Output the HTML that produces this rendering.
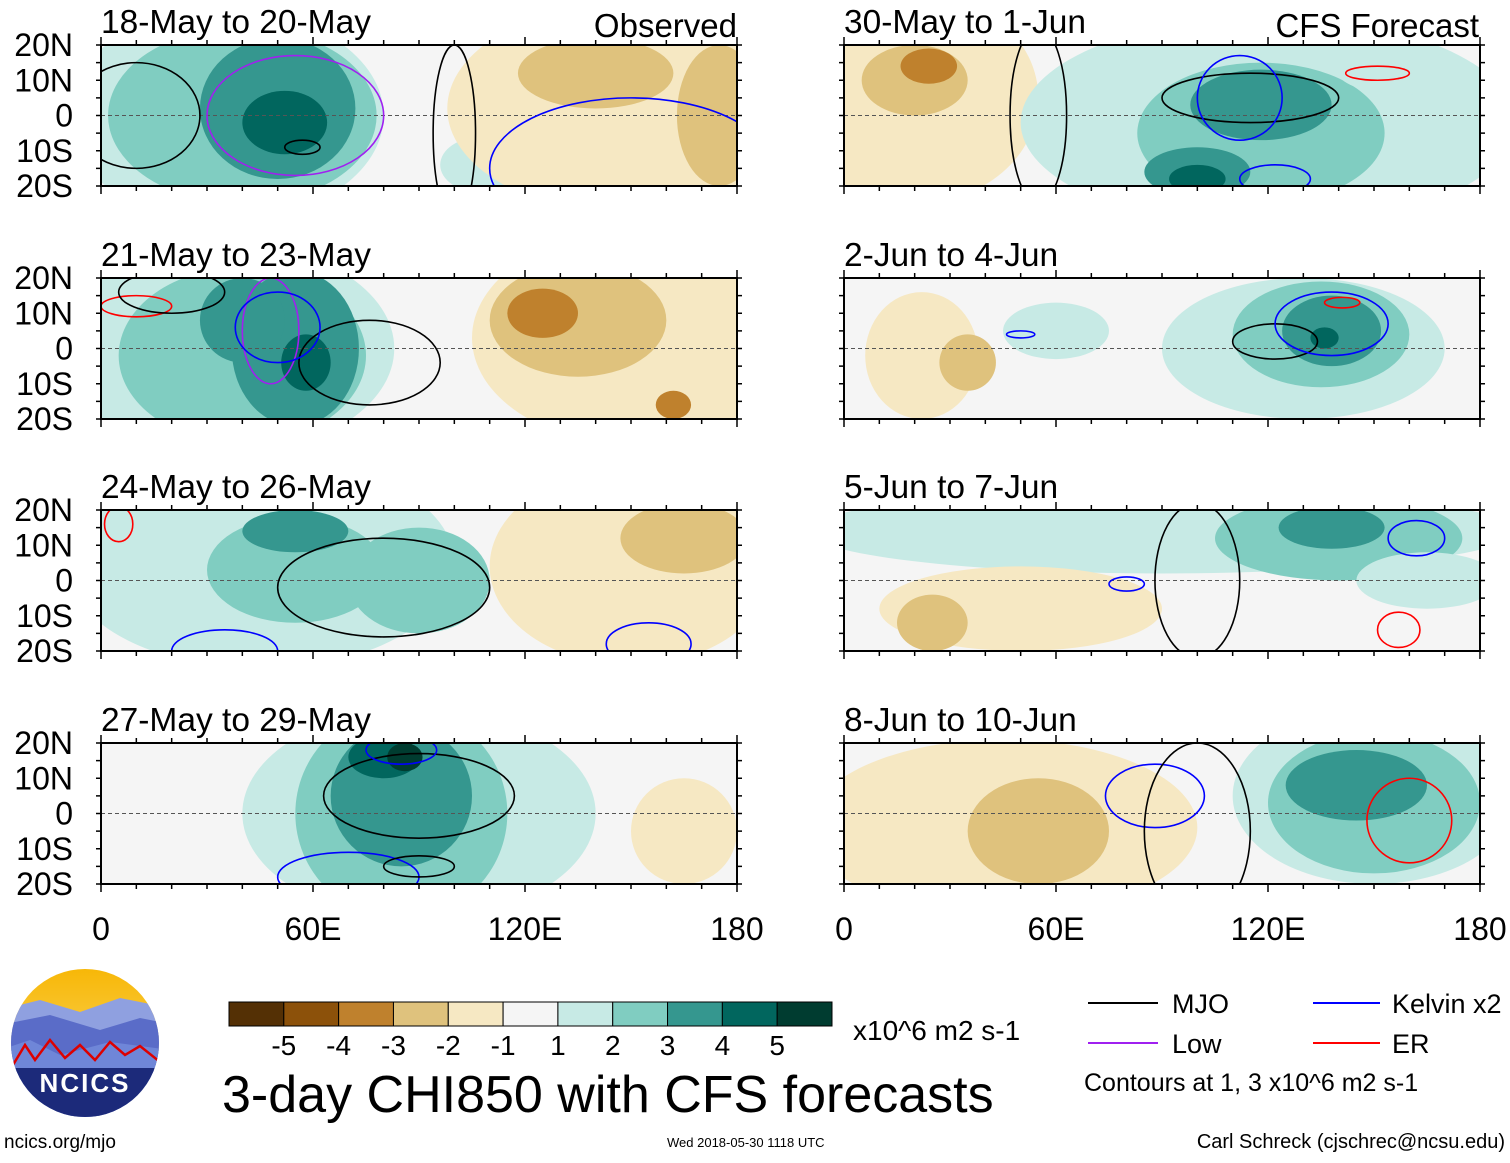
<!DOCTYPE html>
<html><head><meta charset="utf-8">
<style>
body{margin:0;background:#fff;width:1510px;height:1158px;overflow:hidden;font-family:"Liberation Sans",sans-serif;}
svg text{font-family:"Liberation Sans",sans-serif;}
</style></head>
<body>
<svg id="chart" width="1510" height="1158" xmlns="http://www.w3.org/2000/svg">
<g id="panels"></g>
<g id="labels"></g>
<g id="cbar"></g>
<text x="853" y="1040" font-size="28">x10^6 m2 s-1</text>
<text x="222" y="1112" font-size="52">3-day CHI850 with CFS forecasts</text>
<g>
<line x1="1088" y1="1003" x2="1158" y2="1003" stroke="#000" stroke-width="2"/><text x="1172" y="1013" font-size="27">MJO</text>
<line x1="1088" y1="1043" x2="1158" y2="1043" stroke="#a020f0" stroke-width="2"/><text x="1172" y="1053" font-size="27">Low</text>
<line x1="1313" y1="1003" x2="1380" y2="1003" stroke="#0000ff" stroke-width="2"/><text x="1392" y="1013" font-size="27">Kelvin x2</text>
<line x1="1313" y1="1043" x2="1380" y2="1043" stroke="#ff0000" stroke-width="2"/><text x="1392" y="1053" font-size="27">ER</text>
<text x="1084" y="1091" font-size="25">Contours at 1, 3 x10^6 m2 s-1</text>
</g>
<g>
<defs><clipPath id="logoclip"><circle cx="85" cy="1043" r="74"/></clipPath>
<linearGradient id="sky" x1="0" y1="0" x2="0" y2="1"><stop offset="0" stop-color="#f7b500"/><stop offset="1" stop-color="#fbe38a"/></linearGradient></defs>
<g clip-path="url(#logoclip)">
<rect x="0" y="960" width="170" height="170" fill="url(#sky)"/>
<path d="M0 1010 L40 1000 L80 1012 L120 998 L170 1008 L170 1130 L0 1130Z" fill="#8fa0e0"/>
<path d="M0 1025 L50 1015 L100 1030 L140 1018 L170 1024 L170 1130 L0 1130Z" fill="#5a6cc8"/>
<path d="M0 1050 L30 1040 L60 1055 L110 1042 L170 1050 L170 1130 L0 1130Z" fill="#6f86d8"/>
<path d="M10 1070 L25 1045 L35 1060 L50 1040 L65 1058 L80 1045 L95 1060 L110 1042 L125 1055 L140 1046 L160 1062" fill="none" stroke="#d00" stroke-width="2.5"/>
<rect x="0" y="1068" width="170" height="70" fill="#1c2a7a"/>
</g>
<text x="85" y="1092" font-size="26" font-weight="bold" fill="#fff" text-anchor="middle" letter-spacing="2">NCICS</text>
</g>
<text x="4" y="1148" font-size="19">ncics.org/mjo</text>
<text x="667" y="1147" font-size="13">Wed 2018-05-30 1118 UTC</text>
<text x="1505" y="1148" font-size="20" text-anchor="end">Carl Schreck (cjschrec@ncsu.edu)</text>
</svg>
<script>
const levelColors=["#543005","#8c510a","#bf812d","#dfc27d","#f6e8c3","#f5f5f5","#c7eae5","#80cdc1","#35978f","#01665e","#003c30"];
const cbarLabels=["-5","-4","-3","-2","-1","1","2","3","4","5"];
const panelTitles=["18-May to 20-May","30-May to 1-Jun","21-May to 23-May","2-Jun to 4-Jun","24-May to 26-May","5-Jun to 7-Jun","27-May to 29-May","8-Jun to 10-Jun"];
const latTicks=["20N","10N","0","10S","20S"];
const lonTicks=["0","60E","120E","180"];
// blobs: [lon, lat, rxDeg, ryDeg, level(-5..5)]
const blobs0=[[35,0,45,30,1],[108,-14,12,8,1],[150,2,52,30,-1],[175,0,12,20,-2],[140,12,22,10,-2],[40,0,38,25,2],[50,2,22,20,3],[52,-2,12,9,4]];
const blobs1=[[20,5,35,30,-1],[20,10,15,10,-2],[24,14,8,5,-3],[120,-2,70,30,1],[118,-5,35,20,2],[118,3,20,10,3],[100,-16,15,7,3],[100,-18,8,4,4],[160,12,20,6,1]];
const blobs2=[[35,0,48,30,1],[40,-2,35,25,2],[55,0,18,22,3],[40,8,12,12,3],[58,-4,7,8,4],[150,3,45,30,-1],[135,8,25,16,-2],[125,10,10,7,-3],[162,-16,5,4,-3]];
const blobs3=[[22,-2,16,18,-1],[35,-4,8,8,-2],[130,0,40,20,1],[135,4,25,15,2],[138,5,14,10,3],[136,3,4,3,4],[60,5,15,8,1]];
const blobs4=[[45,5,55,30,1],[55,3,25,15,2],[90,0,20,15,2],[55,14,15,6,3],[150,4,40,28,-1],[165,12,18,10,-2]];
const blobs5=[[90,14,100,12,1],[140,12,35,12,2],[138,15,15,6,3],[50,-8,40,12,-1],[25,-12,10,8,-2],[165,0,20,8,1]];
const blobs6=[[90,0,50,30,1],[85,0,30,30,2],[85,5,20,20,3],[80,16,10,6,4],[86,16,5,4,5],[165,-5,15,15,-1]];
const blobs7=[[45,-4,55,25,-1],[55,-5,20,15,-2],[150,5,40,25,1],[150,3,30,20,2],[145,8,20,10,3]];
const panelBlobs=[blobs0,blobs1,blobs2,blobs3,blobs4,blobs5,blobs6,blobs7];
// contours: [color, lon, lat, rxDeg, ryDeg]
const panelLines=[
 [["#000",57,-9,5,2],["#a020f0",55,0,25,17],["#0000ff",150,-15,40,20],["#000",100,-5,6,25],["#000",10,0,18,15]],
 [["#000",115,5,25,7],["#0000ff",112,5,12,12],["#ff0000",151,12,9,2],["#0000ff",122,-18,10,4],["#000",55,0,8,25]],
 [["#ff0000",10,12,10,3],["#000",76,-4,20,12],["#a020f0",48,5,8,15],["#0000ff",50,6,12,10],["#000",20,16,15,6]],
 [["#000",122,2,12,5],["#0000ff",138,7,16,9],["#ff0000",141,13,5,1.5],["#0000ff",50,4,4,1]],
 [["#000",80,-2,30,14],["#0000ff",35,-20,15,6],["#0000ff",155,-18,12,6],["#ff0000",5,16,4,5]],
 [["#0000ff",162,12,8,5],["#0000ff",80,-1,5,2],["#ff0000",157,-14,6,5],["#000",100,0,12,22]],
 [["#000",90,5,27,12],["#0000ff",70,-18,20,7],["#000",90,-15,10,3],["#0000ff",85,18,10,4]],
 [["#0000ff",88,5,14,9],["#ff0000",160,-2,12,12],["#000",100,-5,15,25]]
];
const NS="http://www.w3.org/2000/svg";
const svg=document.getElementById('panels');
const lab=document.getElementById('labels');
const colX=[101,844], rowY=[45,278,510,743], PW=636, PH=141;
function mk(t,a,p){const e=document.createElementNS(NS,t);for(const k in a)e.setAttribute(k,a[k]);(p||svg).appendChild(e);return e;}
function xs(x0,lon){return x0+lon/180*PW;}
function ys(y0,lat){return y0+(20-lat)/40*PH;}
for(let i=0;i<8;i++){
 const x0=colX[i%2], y0=rowY[Math.floor(i/2)];
 const g=mk('g',{});
 
 
 const cp=mk('clipPath',{id:'cp'+i},g);mk('rect',{x:x0,y:y0,width:PW,height:PH},cp);
 const inner=mk('g',{'clip-path':'url(#cp'+i+')'},g);
 mk('rect',{x:x0,y:y0,width:PW,height:PH,fill:'#f5f5f5'},inner);
 panelBlobs[i].forEach(b=>{
  const e=mk('ellipse',{cx:xs(x0,b[0]),cy:ys(y0,b[1]),rx:b[2]/180*PW,ry:b[3]/40*PH,fill:levelColors[b[4]+5]},inner);
  
  
 });
 mk('line',{x1:x0,y1:ys(y0,0),x2:x0+PW,y2:ys(y0,0),stroke:'#555','stroke-dasharray':'4 3','stroke-width':1},inner);
 panelLines[i].forEach(l=>{
  const e=mk('ellipse',{cx:xs(x0,l[1]),cy:ys(y0,l[2]),rx:l[3]/180*PW,ry:l[4]/40*PH,fill:'none',stroke:l[0],'stroke-width':1.6},inner);
  
  
 });
 mk('rect',{x:x0,y:y0,width:PW,height:PH,fill:'none',stroke:'#000','stroke-width':2},g);
 for(let lon=0;lon<=180;lon+=10){const x=xs(x0,lon),L=lon%60==0?8:5;
  mk('line',{x1:x,y1:y0,x2:x,y2:y0-L,stroke:'#000','stroke-width':1.5},g);
  mk('line',{x1:x,y1:y0+PH,x2:x,y2:y0+PH+L,stroke:'#000','stroke-width':1.5},g);}
 for(let lat=-20;lat<=20;lat+=5){const y=ys(y0,lat);
  mk('line',{x1:x0,y1:y,x2:x0-5,y2:y,stroke:'#000','stroke-width':1.5},g);
  mk('line',{x1:x0+PW,y1:y,x2:x0+PW+5,y2:y,stroke:'#000','stroke-width':1.5},g);}
 const t=mk('text',{x:x0,y:y0-12,'font-size':33.5},lab);t.textContent=panelTitles[i];
 
 
 if(i%2==0){latTicks.forEach((s,k)=>{const tt=mk('text',{x:73,y:y0+k*PH/4+11,'font-size':32,'text-anchor':'end'},lab);tt.textContent=s;
  
  });}
}
const o=mk('text',{x:737,y:37,'font-size':33,'text-anchor':'end'},lab);o.textContent='Observed';


const f=mk('text',{x:1479,y:37,'font-size':33,'text-anchor':'end'},lab);f.textContent='CFS Forecast';


colX.forEach(x0=>lonTicks.forEach((s,k)=>{const t=mk('text',{x:x0+k*PW/3,y:940,'font-size':32,'text-anchor':'middle'},lab);t.textContent=s;
 
 }));
const cb=document.getElementById('cbar');const bw=(832-229)/11;
levelColors.forEach((c,k)=>{const r=mk('rect',{x:229+k*bw,y:1002,width:bw,height:24,fill:c,stroke:'#000','stroke-width':1},cb);
 
 });
cbarLabels.forEach((s,k)=>{const t=mk('text',{x:229+(k+1)*bw,y:1055,'font-size':28,'text-anchor':'middle'},cb);t.textContent=s;
 
 });
</script>
</body></html>
